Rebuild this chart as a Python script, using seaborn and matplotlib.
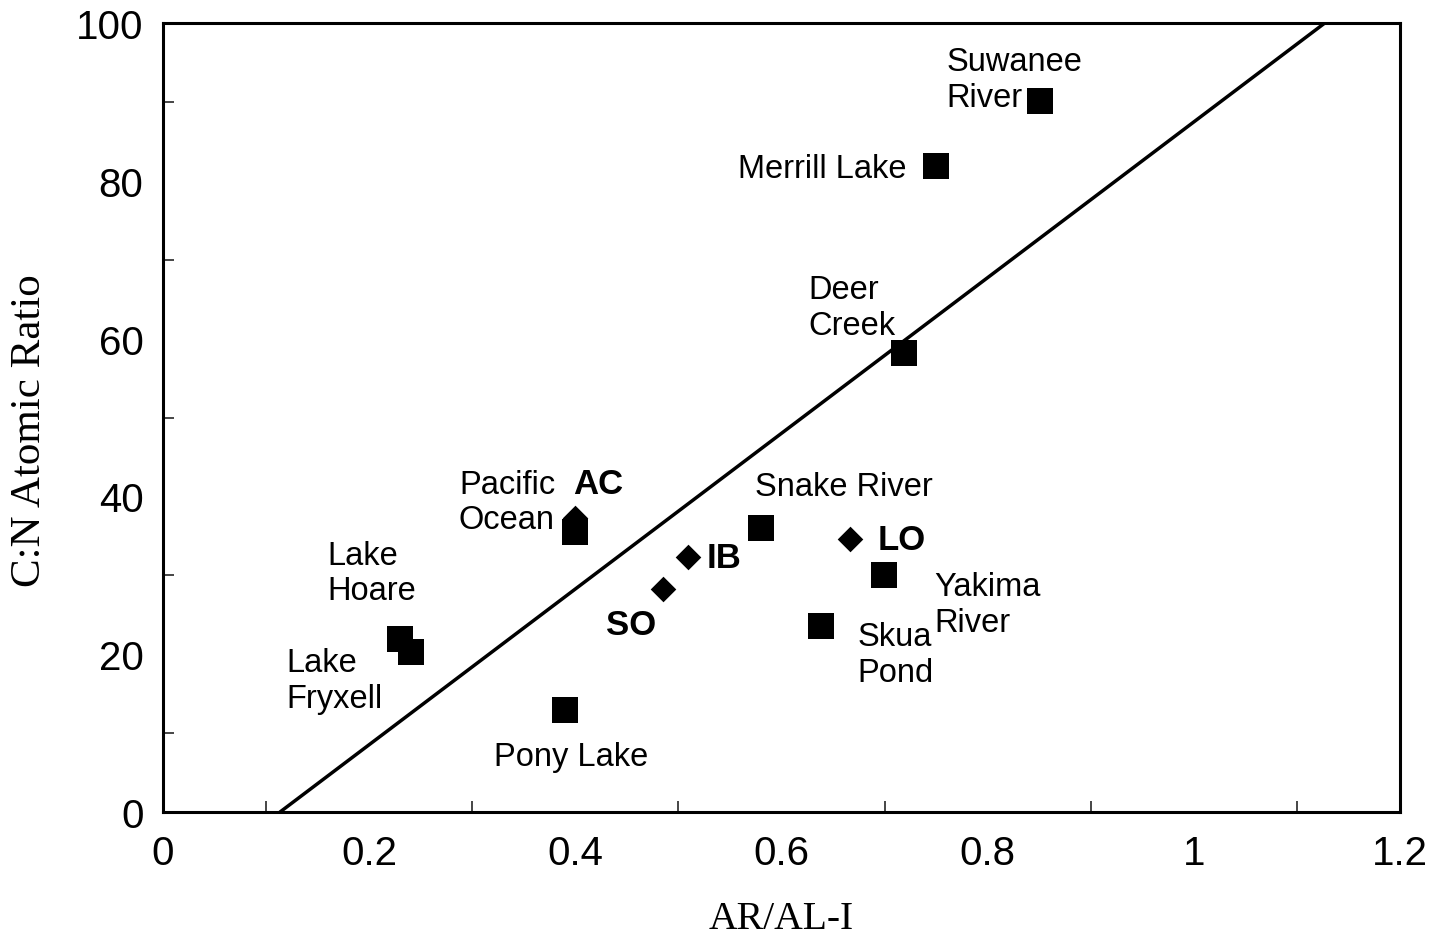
import matplotlib
matplotlib.use("Agg")
import matplotlib.pyplot as plt
import seaborn as sns
import pandas as pd
from matplotlib.ticker import MultipleLocator

# ---- data ----
sample_names = ["Suwanee River", "Merrill Lake", "Deer Creek", "Snake River",
                "Yakima River", "Skua Pond", "Pony Lake", "Pacific Ocean",
                "Lake Hoare", "Lake Fryxell"]
sample_x = [0.851, 0.750, 0.719, 0.580, 0.699, 0.638, 0.390, 0.400, 0.230, 0.241]
sample_y = [90.1, 81.9, 58.2, 36.0, 30.0, 23.6, 12.9, 35.5, 21.9, 20.3]

ocean_names = ["AC", "IB", "SO", "LO"]
ocean_x = [0.400, 0.509, 0.485, 0.666]
ocean_y = [37.3, 32.3, 28.3, 34.6]

line_x = [0.1135, 1.127]
line_y = [0.0, 100.0]

x_ticks = [0, 0.2, 0.4, 0.6, 0.8, 1, 1.2]
x_tick_labels = ["0", "0.2", "0.4", "0.6", "0.8", "1", "1.2"]
y_ticks = [0, 20, 40, 60, 80, 100]

# label text, position, alignment, bold
label_text = ["Suwanee\nRiver", "Merrill Lake", "Deer\nCreek", "Snake River",
              "Yakima\nRiver", "Skua\nPond", "Pony Lake", "Pacific\nOcean",
              "Lake\nHoare", "Lake\nFryxell", "AC", "IB", "SO", "LO"]
label_x = [0.7596, 0.5578, 0.6257, 0.5743, 0.748, 0.6733, 0.3958, 0.2871,
           0.1591, 0.1193, 0.3977, 0.5277, 0.4298, 0.6936]
label_y = [92.8, 81.5, 63.9, 41.3, 26.3, 20.0, 7.1, 39.3,
           30.3, 16.7, 41.6, 32.3, 23.8, 34.6]
label_ha = ["left", "left", "left", "left", "left", "left", "center", "left",
            "left", "left", "left", "left", "left", "left"]
label_bold = [False] * 10 + [True] * 4

# ---- plot ----
sns.set_theme(style="white")
plt.rcParams["font.family"] = ["Liberation Sans", "DejaVu Sans"]

fig = plt.figure(figsize=(14.36, 9.37), dpi=100)
ax = fig.add_axes([0.1135, 0.1323, 0.8615, 0.8421])

sns.lineplot(x=line_x, y=line_y, ax=ax, color="black", linewidth=2.5, zorder=2)

oceans = pd.DataFrame({"x": ocean_x, "y": ocean_y, "name": ocean_names})
samples = pd.DataFrame({"x": sample_x, "y": sample_y, "name": sample_names})
sns.scatterplot(data=oceans, x="x", y="y", marker="D", s=170, color="black",
                linewidth=0, ax=ax, zorder=3)
sns.scatterplot(data=samples, x="x", y="y", marker="s", s=340, color="black",
                linewidth=0, ax=ax, zorder=4)

for t, x, y, ha, b in zip(label_text, label_x, label_y, label_ha, label_bold):
    ax.text(x, y, t, ha=ha, va="center", fontsize=25 if b else 23.5,
            fontweight="bold" if b else "normal", linespacing=1.2,
            color="black", zorder=5)

ax.set_xlim(0, 1.2)
ax.set_ylim(0, 100)
ax.set_xticks(x_ticks)
ax.set_xticklabels(x_tick_labels)
ax.set_yticks(y_ticks)
ax.xaxis.set_minor_locator(MultipleLocator(0.1))
ax.yaxis.set_minor_locator(MultipleLocator(10))
ax.tick_params(axis="both", which="major", direction="in", length=15, width=1.5,
               labelsize=29, colors="black", top=False, right=False)
ax.tick_params(axis="x", which="major", pad=16)
ax.tick_params(axis="y", which="major", pad=14)
ax.tick_params(axis="both", which="minor", direction="in", length=8, width=1.2,
               top=False, right=False, bottom=True, left=True)

for sp in ax.spines.values():
    sp.set_visible(True)
    sp.set_color("black")
    sp.set_linewidth(2.2)

ax.set_xlabel("AR/AL-I", fontsize=28.5, family=["Liberation Serif", "DejaVu Serif"],
              labelpad=20, color="black")
ax.set_ylabel("C:N Atomic Ratio", fontsize=31, family=["Liberation Serif", "DejaVu Serif"],
              color="black")
ax.yaxis.set_label_coords(-0.092, 0.485)
ax.grid(False)

fig.savefig("out.png", dpi=100, facecolor="white")
